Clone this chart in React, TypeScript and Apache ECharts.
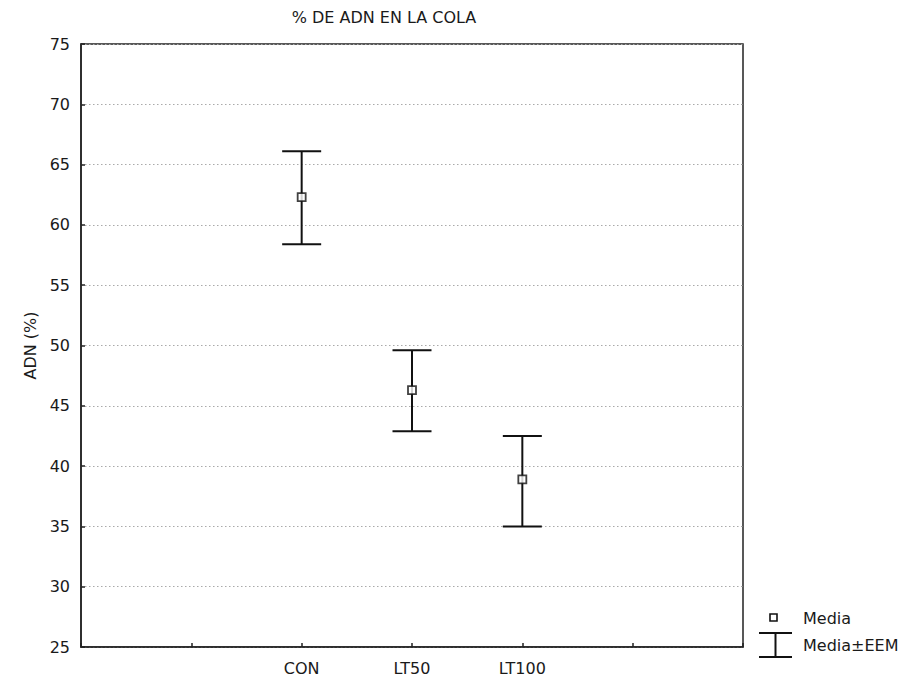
import React, { useEffect, useRef } from "react";
import * as echarts from "echarts";

const xCategories = [" ", "  ", "CON", "LT50", "LT100", "   ", "    "];
const groups = ["CON", "LT50", "LT100"];
const means = [62.3, 46.3, 38.9];
const upperEEM = [66.1, 49.6, 42.5];
const lowerEEM = [58.4, 42.9, 35.0];
const yMin = 25;
const yMax = 75;
const yStep = 5;

const FONT = "'DejaVu Sans', 'Liberation Sans', Arial, sans-serif";
const TXT = "#1a1a1a";
const FS = 16;

export default function App() {
  const ref = useRef<HTMLDivElement>(null);
  useEffect(() => {
    const chart = echarts.init(ref.current!, null, { renderer: "svg" });
    const capHalf = 19.5;
    chart.setOption({
      animation: false,
      backgroundColor: "#fff",
      title: {
        text: "% DE ADN EN LA COLA",
        left: 379,
        top: 4,
        textAlign: "center",
        textStyle: { fontFamily: FONT, fontSize: FS, fontWeight: "normal", color: TXT },
      },
      grid: {
        left: 81,
        right: 179,
        top: 44,
        bottom: 36,
        show: true,
        borderColor: "#222",
        borderWidth: 1.5,
      },
      xAxis: {
        type: "category",
        data: xCategories,
        boundaryGap: false,
        axisLine: { lineStyle: { color: "#222", width: 1.5 } },
        axisTick: { inside: true, length: 4, interval: 0, lineStyle: { color: "#222", width: 1.5 } },
        axisLabel: { interval: 0, margin: 13, fontFamily: FONT, fontSize: FS, color: TXT },
        splitLine: { show: false },
      },
      yAxis: {
        type: "value",
        min: yMin,
        max: yMax,
        interval: yStep,
        name: "ADN (%)",
        nameLocation: "middle",
        nameGap: 43,
        nameTextStyle: { fontFamily: FONT, fontSize: FS, color: TXT },
        axisLine: { show: true, lineStyle: { color: "#222", width: 1.5 } },
        axisTick: { show: true, inside: true, length: 4, lineStyle: { color: "#222", width: 1.5 } },
        axisLabel: { margin: 11, fontFamily: FONT, fontSize: FS, color: TXT },
        splitLine: { show: true, lineStyle: { type: [1.5, 2.5], color: "#aaa", width: 1.2 } },
      },
      series: [
        {
          type: "custom",
          renderItem: (params: any, api: any) => {
            const cat = api.value(0);
            const hi = api.coord([cat, api.value(1)]);
            const lo = api.coord([cat, api.value(2)]);
            const st = { stroke: "#111", lineWidth: 2 };
            return {
              type: "group",
              children: [
                { type: "line", shape: { x1: hi[0], y1: hi[1], x2: lo[0], y2: lo[1] }, style: st },
                { type: "line", shape: { x1: hi[0] - capHalf, y1: hi[1], x2: hi[0] + capHalf, y2: hi[1] }, style: st },
                { type: "line", shape: { x1: lo[0] - capHalf, y1: lo[1], x2: lo[0] + capHalf, y2: lo[1] }, style: st },
              ],
            };
          },
          encode: { x: 0, y: [1, 2] },
          data: groups.map((g, i) => [g, upperEEM[i], lowerEEM[i]]),
          z: 2,
        },
        {
          type: "scatter",
          symbol: "rect",
          symbolSize: 8,
          itemStyle: { color: "#fff", borderColor: "#111", borderWidth: 1.8 },
          data: groups.map((g, i) => [g, means[i]]),
          z: 3,
        },
      ],
      graphic: [
        { type: "rect", shape: { x: 770, y: 614, width: 7, height: 7 }, style: { fill: "#fff", stroke: "#111", lineWidth: 1.6 } },
        { type: "line", shape: { x1: 775.5, y1: 633, x2: 775.5, y2: 657 }, style: { stroke: "#111", lineWidth: 2 } },
        { type: "line", shape: { x1: 759, y1: 633, x2: 792, y2: 633 }, style: { stroke: "#111", lineWidth: 2 } },
        { type: "line", shape: { x1: 759, y1: 657, x2: 792, y2: 657 }, style: { stroke: "#111", lineWidth: 2 } },
        { type: "text", x: 803, y: 618, style: { text: "Media", font: `${FS}px ${FONT}`, fill: TXT, verticalAlign: "middle" } },
        { type: "text", x: 803, y: 645, style: { text: "Media±EEM", font: `${FS}px ${FONT}`, fill: TXT, verticalAlign: "middle" } },
      ],
    });
    return () => chart.dispose();
  }, []);
  return <div ref={ref} style={{ position: "fixed", left: 0, top: 0, width: 922, height: 683 }} />;
}
